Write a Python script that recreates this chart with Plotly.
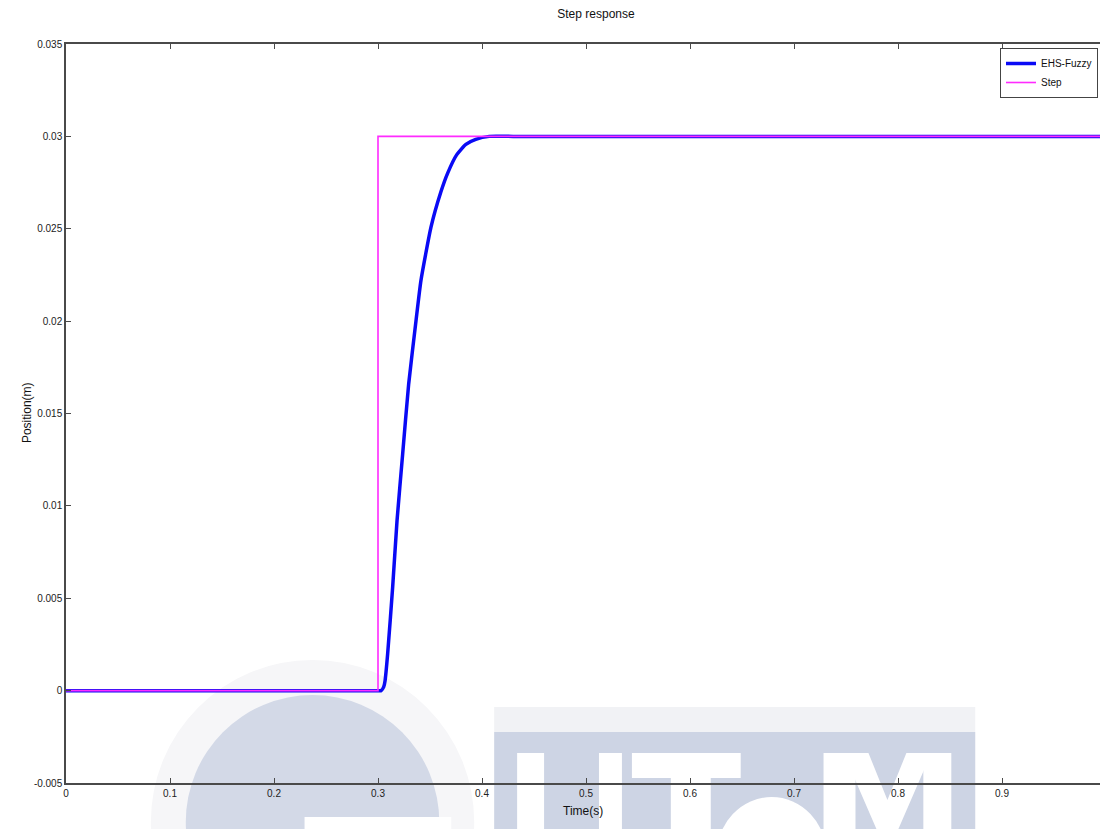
import plotly.graph_objects as go

# ---- data ----
step_t = [0.0, 0.3, 0.3, 1.0]
step_y = [0.0, 0.0, 0.03, 0.03]

fuzzy_t = [0.0, 0.1, 0.2, 0.3, 0.303, 0.3055, 0.3068, 0.3093, 0.3141, 0.3183, 0.3237,
           0.3295, 0.3365, 0.3413, 0.351, 0.3605, 0.3669, 0.3756, 0.3845, 0.394, 0.407,
           0.43, 0.6, 0.8, 1.0]
fuzzy_y = [0.0, 0.0, 0.0, 0.0, 0.0, 0.0002, 0.00054, 0.0020, 0.0056, 0.0092, 0.0128,
           0.0166, 0.0200, 0.0222, 0.0251, 0.0270, 0.0280, 0.0290, 0.02957, 0.02984, 0.0300,
           0.0300, 0.0300, 0.0300, 0.0300]

x_ticks = [0, 0.1, 0.2, 0.3, 0.4, 0.5, 0.6, 0.7, 0.8, 0.9]
x_labels = ["0", "0.1", "0.2", "0.3", "0.4", "0.5", "0.6", "0.7", "0.8", "0.9"]
y_ticks = [-0.005, 0, 0.005, 0.01, 0.015, 0.02, 0.025, 0.03, 0.035]
y_labels = ["-0.005", "0", "0.005", "0.01", "0.015", "0.02", "0.025", "0.03", "0.035"]

# page has an 8px body margin; figure is sized so the plot lands where the reference has it
OFF = 8
W, H = 1100, 821
L, R, T, B = 58, 0, 36, 46
PX0, PX1 = 66, 1108      # plot area in page pixels
PY0, PY1 = 44, 783


def px(x):
    return (x - PX0) / (PX1 - PX0)


def py(y):
    return (PY1 - y) / (PY1 - PY0)


fig = go.Figure()
fig.add_trace(go.Scatter(x=fuzzy_t, y=fuzzy_y, mode="lines", name="EHS-Fuzzy",
                         line=dict(color="#0a0af5", width=3.5, shape="spline", smoothing=0.5)))
fig.add_trace(go.Scatter(x=step_t, y=step_y, mode="lines", name="Step",
                         line=dict(color="#ff2bff", width=1.6)))

# faint background watermark (decoration)
shapes = []
wm = "#d3d9e7"
shapes.append(dict(type="circle", xref="paper", yref="paper", layer="below",
                   x0=px(313 - 162), x1=px(313 + 162), y0=py(822 + 162), y1=py(822 - 162),
                   fillcolor="#f6f6f8", line=dict(width=0)))
shapes.append(dict(type="circle", xref="paper", yref="paper", layer="below",
                   x0=px(313 - 127), x1=px(313 + 127), y0=py(822 + 127), y1=py(822 - 127),
                   fillcolor=wm, line=dict(width=0)))
shapes.append(dict(type="rect", xref="paper", yref="paper", layer="below",
                   x0=px(305), x1=px(452), y0=py(829), y1=py(817),
                   fillcolor="white", line=dict(width=0)))
shapes.append(dict(type="rect", xref="paper", yref="paper", layer="below",
                   x0=px(495), x1=px(977), y0=py(732), y1=py(707),
                   fillcolor="#f1f2f5", line=dict(width=0)))
shapes.append(dict(type="rect", xref="paper", yref="paper", layer="below",
                   x0=px(495), x1=px(977), y0=py(829), y1=py(732),
                   fillcolor="#cdd4e4", line=dict(width=0)))
# letters U T e M in white
for (a, b, c, d) in [(518, 545, 753, 829), (600, 623, 753, 829),
                     (633, 742, 753, 778), (672, 712, 753, 829),
                     (825, 857, 753, 829), (925, 953, 753, 829)]:
    shapes.append(dict(type="rect", xref="paper", yref="paper", layer="below",
                       x0=px(a), x1=px(b), y0=py(d), y1=py(c),
                       fillcolor="white", line=dict(width=0)))
shapes.append(dict(type="circle", xref="paper", yref="paper", layer="below",
                   x0=px(773 - 55), x1=px(773 + 55), y0=py(855 + 58), y1=py(855 - 58),
                   fillcolor="white", line=dict(width=0)))
shapes.append(dict(type="path", xref="paper", yref="paper", layer="below",
                   path=f"M {px(845)},{py(753)} L {px(870)},{py(753)} L {px(889)},{py(800)} "
                        f"L {px(908)},{py(753)} L {px(933)},{py(753)} L {px(900)},{py(829)} "
                        f"L {px(878)},{py(829)} Z",
                   fillcolor="white", line=dict(width=0)))

axis_col = "#4a4a4a"
tick_font = dict(family="Liberation Sans, Arial, sans-serif", size=10, color="#222")

fig.update_layout(
    width=W, height=H,
    margin=dict(l=L, r=R, t=T, b=B),
    paper_bgcolor="white", plot_bgcolor="rgba(0,0,0,0)",
    shapes=shapes,
    title=dict(text="Step response", x=px(597), xref="paper", y=1 - (14 - OFF) / H,
               yref="container", xanchor="center", yanchor="middle",
               font=dict(family="Liberation Sans Narrow, Liberation Sans, Arial", size=12, color="#111")),
    xaxis=dict(range=[0, 1], tickvals=x_ticks, ticktext=x_labels, showgrid=False,
               zeroline=False, showline=True, linecolor=axis_col, linewidth=1.5,
               mirror="ticks", ticks="inside", ticklen=5, tickcolor=axis_col,
               tickfont=tick_font),
    yaxis=dict(range=[-0.005, 0.035], tickvals=y_ticks, ticktext=y_labels, showgrid=False,
               zeroline=False, showline=True, linecolor=axis_col, linewidth=1.5,
               mirror="ticks", ticks="inside", ticklen=5, tickcolor=axis_col,
               tickfont=tick_font),
    legend=dict(x=px(1100), y=py(48), xanchor="right", yanchor="top",
                bgcolor="white", bordercolor="#444", borderwidth=1,
                font=dict(family="Liberation Sans, Arial", size=10, color="#111"),
                tracegroupgap=0, itemwidth=30),
    showlegend=True,
    annotations=[
        dict(text="Position(m)", x=px(18), y=py(413), xref="paper", yref="paper",
             textangle=-90, showarrow=False,
             font=dict(family="Liberation Sans, Arial", size=12, color="#111")),
        dict(text="Time(s)", x=px(584), y=py(820), xref="paper", yref="paper",
             showarrow=False,
             font=dict(family="Liberation Sans Narrow, Liberation Sans, Arial", size=12, color="#111")),
    ],
)

fig.write_html("out.html")
